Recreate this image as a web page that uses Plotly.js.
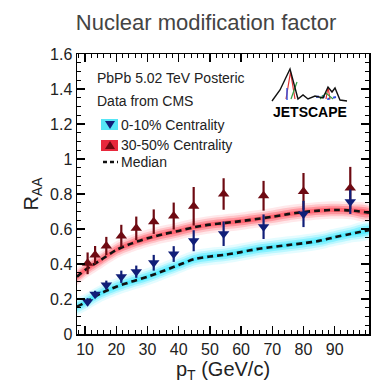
<!DOCTYPE html>
<html>
<head>
<meta charset="utf-8">
<script src="https://cdn.plot.ly/plotly-3.0.1.min.js"></script>
<style>
html,body{margin:0;padding:0;background:#fff;}
#chart{width:375px;height:383px;}
</style>
</head>
<body>
<div id="chart"></div>
<script>
// ---- data ----
const pT = [10.8, 13.2, 16.8, 21.6, 26.4, 32.0, 38.4, 44.8, 54.4, 67.2, 80.0, 95.0];
const raaCentral = [0.185, 0.227, 0.280, 0.327, 0.356, 0.407, 0.457, 0.533, 0.573, 0.613, 0.686, 0.756];
const errCentral = [0.020, 0.020, 0.025, 0.035, 0.035, 0.045, 0.045, 0.060, 0.070, 0.070, 0.075, 0.070];
const raaPeripheral = [0.404, 0.451, 0.503, 0.560, 0.604, 0.642, 0.674, 0.730, 0.800, 0.790, 0.815, 0.835];
const errPeripheral = [0.062, 0.052, 0.052, 0.064, 0.067, 0.070, 0.077, 0.110, 0.090, 0.085, 0.105, 0.120];

const pTModel = [7.4, 10, 15, 20, 25, 30, 35, 40, 45, 50, 55, 60, 65, 70, 75, 80, 85, 90, 95, 101];
const medianCentral = [0.156, 0.180, 0.232, 0.270, 0.300, 0.327, 0.360, 0.394, 0.428, 0.443, 0.453, 0.468, 0.485, 0.497, 0.508, 0.519, 0.532, 0.553, 0.572, 0.594];
const medianPeripheral = [0.327, 0.366, 0.423, 0.480, 0.518, 0.547, 0.570, 0.589, 0.610, 0.625, 0.635, 0.645, 0.657, 0.670, 0.685, 0.697, 0.705, 0.709, 0.706, 0.693];

const xTicks = [10, 20, 30, 40, 50, 60, 70, 80, 90];

const labelCentral = '0-10% Centrality';
const labelPeripheral = '30-50% Centrality';
const labelMedian = 'Median';

// ---- styling ----
const FONT = 'Liberation Sans, Arial, Helvetica, sans-serif';
const margin = {l: 77, r: 6, t: 54, b: 49};
const W = 375, H = 383;
const pw = W - margin.l - margin.r, ph = H - margin.t - margin.b;
function px(x){ return (x - margin.l) / pw; }
function py(y){ return (margin.t + ph - y) / ph; }
function pathFrom(pts, close){
  return pts.map((p, i) => (i ? 'L' : 'M') + px(p[0]).toFixed(4) + ',' + py(p[1]).toFixed(4)).join(' ') + (close ? ' Z' : '');
}

// glow bands around medians
function band(xs, ys, half, color){
  const up = ys.map(v => v + half), lo = ys.map(v => v - half);
  return {
    x: xs.concat(xs.slice().reverse()),
    y: up.concat(lo.slice().reverse()),
    mode: 'lines', fill: 'toself', fillcolor: color,
    line: {width: 0, shape: 'spline', smoothing: 0.8}, hoverinfo: 'skip', showlegend: false
  };
}
const traces = [];
[[0.050, 0.10], [0.036, 0.18], [0.024, 0.28], [0.012, 0.38]].forEach(([h, a]) => {
  traces.push(band(pTModel, medianPeripheral, h, 'rgba(255,25,45,' + a + ')'));
  traces.push(band(pTModel, medianCentral, h, 'rgba(0,228,255,' + a + ')'));
});
traces.push({
  x: pTModel, y: medianPeripheral, mode: 'lines', name: labelMedian, showlegend: false,
  line: {color: '#111', width: 2.6, dash: '6px,4px', shape: 'spline', smoothing: 0.8}
});
traces.push({
  x: pTModel, y: medianCentral, mode: 'lines', name: labelMedian, showlegend: false,
  line: {color: '#111', width: 2.6, dash: '6px,4px', shape: 'spline', smoothing: 0.8}
});
traces.push({
  x: pT, y: raaPeripheral, mode: 'markers', name: labelPeripheral, showlegend: false,
  marker: {symbol: 'triangle-up', size: 10, color: '#6e0a12'},
  error_y: {type: 'data', array: errPeripheral, visible: true, thickness: 2.2, width: 0, color: '#6e0a12'}
});
traces.push({
  x: pT, y: raaCentral, mode: 'markers', name: labelCentral, showlegend: false,
  marker: {symbol: 'triangle-down', size: 10, color: '#101e78'},
  error_y: {type: 'data', array: errCentral, visible: true, thickness: 2.2, width: 0, color: '#101e78'}
});

// ---- legend / labels drawn in paper space ----
const txt = (x, y, t, extra) => Object.assign({
  xref: 'paper', yref: 'paper', x: px(x), y: py(y), text: t, showarrow: false,
  xanchor: 'left', yanchor: 'middle', font: {family: FONT, size: 14, color: '#222'}
}, extra || {});
const annotations = [
  txt(95, 78, 'PbPb 5.02 TeV Posteric'),
  txt(95, 101, 'Data from CMS'),
  txt(119, 125, labelCentral),
  txt(119, 145, labelPeripheral),
  txt(119, 162, labelMedian),
  txt(310, 112, '<b>JETSCAPE</b>', {xanchor: 'center', font: {family: FONT, size: 14, color: '#000'}})
];
const shapes = [
  {type: 'rect', xref: 'paper', yref: 'paper', x0: px(101), x1: px(118), y0: py(130), y1: py(119),
   fillcolor: '#55e6f6', line: {width: 0}},
  {type: 'rect', xref: 'paper', yref: 'paper', x0: px(101), x1: px(118), y0: py(151), y1: py(140),
   fillcolor: '#e8283c', line: {width: 0}},
  {type: 'path', xref: 'paper', yref: 'paper', path: pathFrom([[105, 121], [115, 121], [110, 129]], true),
   fillcolor: '#101e78', line: {width: 0}},
  {type: 'path', xref: 'paper', yref: 'paper', path: pathFrom([[105, 149], [115, 149], [110, 141]], true),
   fillcolor: '#6e0a12', line: {width: 0}},
  {type: 'line', xref: 'paper', yref: 'paper', x0: px(103), x1: px(118), y0: py(162), y1: py(162),
   line: {color: '#111', width: 2.6, dash: '4px,3px'}},
  // JETSCAPE logo sketch
  {type: 'path', xref: 'paper', yref: 'paper', path: pathFrom([[286, 99], [290.5, 72], [295, 99]]),
   line: {color: '#e03030', width: 1.2}},
  {type: 'path', xref: 'paper', yref: 'paper', path: pathFrom([[291, 99], [297, 82]]),
   line: {color: '#30a040', width: 1.2}},
  {type: 'path', xref: 'paper', yref: 'paper', path: pathFrom([[287, 88], [287, 100]]),
   line: {color: '#3050e0', width: 1.4}},
  {type: 'path', xref: 'paper', yref: 'paper', path: pathFrom([[316, 97], [322, 96], [328, 99], [336, 97]]),
   line: {color: '#3050e0', width: 2, dash: 'dot'}},
  {type: 'path', xref: 'paper', yref: 'paper', path: pathFrom([[326, 99], [328, 87], [330, 99]]),
   line: {color: '#e03030', width: 1.2}},
  {type: 'path', xref: 'paper', yref: 'paper', path: pathFrom([[320, 99], [326, 93], [333, 99]]),
   line: {color: '#30a040', width: 1.1}},
  {type: 'path', xref: 'paper', yref: 'paper',
   path: pathFrom([[272, 101], [280, 90], [290, 69], [298, 99], [303, 95], [308, 99], [315, 96], [323, 98],
                   [328, 87], [332, 92], [335, 88], [340, 100], [347, 101]]),
   line: {color: '#111', width: 1.4}}
];

const axisCommon = {
  showline: true, linecolor: '#000', linewidth: 1.5, mirror: 'ticks',
  ticks: 'inside', ticklen: 8, tickwidth: 1.3, tickcolor: '#000',
  showgrid: false, zeroline: false,
  tickfont: {family: FONT, size: 16, color: '#222'}
};
const layout = {
  width: W, height: H, margin: margin,
  paper_bgcolor: '#fff', plot_bgcolor: '#fff',
  showlegend: false,
  title: {text: 'Nuclear modification factor', x: 206 / W, xref: 'container', xanchor: 'center',
          y: 1 - 22 / H, yref: 'container', yanchor: 'middle',
          font: {family: FONT, size: 22, color: '#444'}},
  xaxis: Object.assign({}, axisCommon, {
    range: [7.4, 101], tickmode: 'array', tickvals: xTicks,
    minor: {tick0: 0, dtick: 2, ticks: 'inside', ticklen: 4, tickwidth: 1, tickcolor: '#000'},
    title: {text: 'p<sub>T</sub> (GeV/c)', standoff: 6, font: {family: FONT, size: 20, color: '#222'}}
  }),
  yaxis: Object.assign({}, axisCommon, {
    range: [0, 1.6], dtick: 0.2, tick0: 0,
    minor: {dtick: 0.05, ticks: 'inside', ticklen: 4, tickwidth: 1, tickcolor: '#000'},
    title: {text: 'R<sub>AA</sub>', standoff: 6, font: {family: FONT, size: 20, color: '#222'}}
  }),
  annotations: annotations,
  shapes: shapes
};
Plotly.newPlot('chart', traces, layout, {displayModeBar: false, staticPlot: true});
</script>
</body>
</html>
